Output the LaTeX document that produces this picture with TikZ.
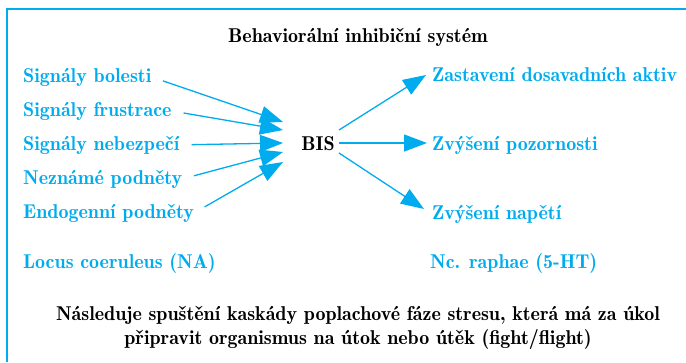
\documentclass[tikz,border=0pt]{standalone}
\usepackage{fontspec}
\newfontfamily\demi{lmromandemi10-regular.otf}
\usetikzlibrary{arrows.meta}
\definecolor{cy}{RGB}{0,172,238}
\begin{document}
\begin{tikzpicture}[x=1pt,y=-1pt,
 lab/.style={font=\demi\fontsize{20}{24}\selectfont, text=cy, inner sep=0pt, anchor=base west},
 blk/.style={font=\demi\fontsize{20}{24}\selectfont, text=black, inner sep=0pt, anchor=base},
 arr/.style={draw=cy, line width=1.3pt, -{Triangle[length=23pt,width=17pt]}},
 frame/.style={draw=cy, line width=2pt}]
\useasboundingbox (0,0) rectangle (686,362);
\draw[frame] (7,362) -- (7,8.5) -- (686,8.5);

\node[blk] (title) at (358,42) {Behaviorální inhibiční systém};

\node[lab] (l1) at (23,82) {Signály bolesti};
\node[lab] (l2) at (23,116) {Signály frustrace};
\node[lab] (l3) at (23,150) {Signály nebezpečí};
\node[lab] (l4) at (23,184) {Neznámé podněty};
\node[lab] (l5) at (23,218) {Endogenní podněty};
\node[lab] (lc) at (23,268) {Locus coeruleus (NA)};

\node[blk] (bis) at (318,150) {BIS};

\node[lab] (r1) at (432,81) {Zastavení dosavadních aktiv};
\node[lab] (r2) at (432,150) {Zvýšení pozornosti};
\node[lab] (r3) at (432,219) {Zvýšení napětí};
\node[lab] (nc) at (430,268) {Nc. raphae (5-HT)};

\node[blk] (f1) at (358,320) {Následuje spuštění kaskády poplachové fáze stresu, která má za úkol};
\node[blk] (f2) at (358,344) {připravit organismus na útok nebo útěk (fight/flight)};

\coordinate (t1) at (283,122);
\coordinate (t2) at (283,130);
\coordinate (t3) at (283,143);
\coordinate (t4) at (283,152);
\coordinate (t5) at (283,162);
\coordinate (b1) at (339,130);
\coordinate (b2) at (339,143);
\coordinate (b3) at (339,153);
\coordinate (e1) at (426,75);
\coordinate (e2) at (427,143);
\coordinate (e3) at (424,209);

\draw[arr, shorten <=12pt] (l1.east) -- (t1);
\draw[arr, shorten <=12pt] (l2.east) -- (t2);
\draw[arr, shorten <=12pt] (l3.east) -- (t3);
\draw[arr, shorten <=12pt] (l4.east) -- (t4);
\draw[arr, shorten <=12pt] (l5.east) -- (t5);
\draw[arr] (b1) -- (e1);
\draw[arr] (b2) -- (e2);
\draw[arr] (b3) -- (e3);
\end{tikzpicture}
\end{document}
